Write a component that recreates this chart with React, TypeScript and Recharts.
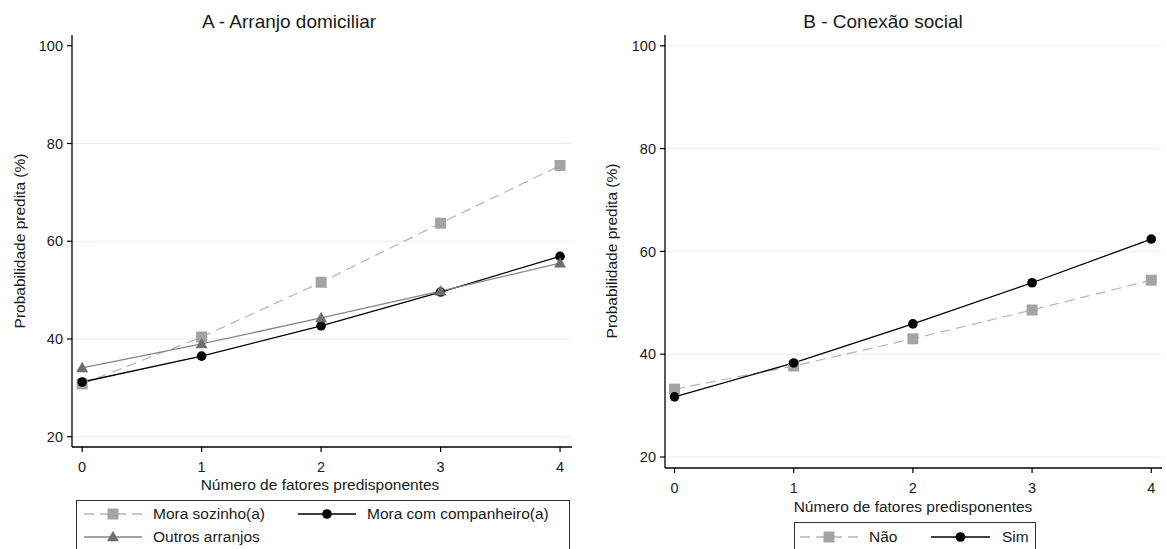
import React from 'react';
import { LineChart, Line, XAxis, YAxis, CartesianGrid } from 'recharts';

const xValues = [0, 1, 2, 3, 4];
const moraSozinho = [30.8, 40.4, 51.6, 63.7, 75.5];
const moraCompanheiro = [31.2, 36.5, 42.7, 49.6, 56.9];
const outrosArranjos = [34.1, 39.0, 44.3, 49.8, 55.5];
const conexaoNao = [33.2, 37.7, 43.0, 48.6, 54.4];
const conexaoSim = [31.7, 38.3, 45.9, 53.9, 62.4];
const yTicks = [20, 40, 60, 80, 100];
const xTicks = [0, 1, 2, 3, 4];

const titleA = 'A - Arranjo domiciliar';
const titleB = 'B - Conexão social';
const xTitle = 'Número de fatores predisponentes';
const yTitle = 'Probabilidade predita (%)';
const legendA = ['Mora sozinho(a)', 'Mora com companheiro(a)', 'Outros arranjos'];
const legendB = ['Não', 'Sim'];

const dataA = xValues.map((x, i) => ({
  x,
  sozinho: moraSozinho[i],
  companheiro: moraCompanheiro[i],
  outros: outrosArranjos[i],
}));
const dataB = xValues.map((x, i) => ({ x, nao: conexaoNao[i], sim: conexaoSim[i] }));

const FONT = '"Liberation Sans", Arial, sans-serif';
const TEXT = '#1a1a1a';
const SQ_FILL = '#a4a4a4';
const SQ_LINE = '#b4b4b4';
const TRI_FILL = '#6f6f6f';
const TRI_LINE = '#858585';
const GRID = '#e4eeef';

const squareDot = (p: any) => {
  if (p.cx == null || p.cy == null) return <g key={`s-${p.index}`} />;
  return <rect key={`s-${p.index}`} x={p.cx - 5.5} y={p.cy - 5.5} width={11} height={11} fill={SQ_FILL} />;
};
const circleDot = (p: any) => {
  if (p.cx == null || p.cy == null) return <g key={`c-${p.index}`} />;
  return <circle key={`c-${p.index}`} cx={p.cx} cy={p.cy} r={4.8} fill="#000" />;
};
const triDot = (p: any) => {
  if (p.cx == null || p.cy == null) return <g key={`t-${p.index}`} />;
  const { cx, cy } = p;
  return (
    <polygon
      key={`t-${p.index}`}
      points={`${cx - 6},${cy + 4.3} ${cx + 6},${cy + 4.3} ${cx},${cy - 6.2}`}
      fill={TRI_FILL}
    />
  );
};

const tickStyle = { fill: TEXT, fontSize: 14.5, fontFamily: FONT };

const abs = (s: React.CSSProperties): React.CSSProperties => ({ position: 'absolute', ...s });

function TextAt({ x, y, children, size = 15.5, anchor = 'left' }: any) {
  const style: React.CSSProperties = {
    position: 'absolute',
    top: y - 10,
    height: 20,
    lineHeight: '20px',
    fontSize: size,
    fontFamily: FONT,
    color: TEXT,
    whiteSpace: 'nowrap',
  };
  if (anchor === 'center') {
    style.left = x - 300;
    style.width = 600;
    style.textAlign = 'center';
  } else {
    style.left = x;
  }
  return <div style={style}>{children}</div>;
}

function YTitle({ x, y }: { x: number; y: number }) {
  return (
    <div
      style={abs({
        left: x - 150,
        top: y - 10,
        width: 300,
        height: 20,
        lineHeight: '20px',
        textAlign: 'center',
        fontSize: 15.5,
        fontFamily: FONT,
        color: TEXT,
        transform: 'rotate(-90deg)',
        transformOrigin: 'center center',
        whiteSpace: 'nowrap',
      })}
    >
      {yTitle}
    </div>
  );
}

function Sample({ x1, x2, y, kind }: { x1: number; x2: number; y: number; kind: 'sq' | 'ci' | 'tr' }) {
  const w = x2 - x1;
  const c = w / 2;
  const stroke = kind === 'sq' ? SQ_LINE : kind === 'ci' ? '#000' : TRI_LINE;
  return (
    <svg style={abs({ left: x1, top: y - 8, width: w, height: 16 })} width={w} height={16}>
      <line
        x1={0}
        x2={w}
        y1={8}
        y2={8}
        stroke={stroke}
        strokeWidth={1.3}
        strokeDasharray={kind === 'sq' ? '10 6' : undefined}
      />
      {kind === 'sq' && <rect x={c - 5.5} y={2.5} width={11} height={11} fill={SQ_FILL} />}
      {kind === 'ci' && <circle cx={c} cy={8} r={4.8} fill="#000" />}
      {kind === 'tr' && (
        <polygon points={`${c - 6},${12.3} ${c + 6},${12.3} ${c},${1.8}`} fill={TRI_FILL} />
      )}
    </svg>
  );
}

export default function App() {
  return (
    <div
      style={abs({
        left: 0,
        top: 0,
        width: 1166,
        height: 549,
        overflow: 'hidden',
        background: '#fff',
        fontFamily: FONT,
      })}
    >
      {/* Panel A */}
      <div style={abs({ left: 0, top: 0 })}>
        <LineChart
          width={590}
          height={549}
          data={dataA}
          margin={{ top: 35, right: 18, bottom: 72, left: 0 }}
          style={{ fontFamily: FONT }}
        >
          <CartesianGrid vertical={false} stroke={GRID} horizontalValues={[20, 40, 60, 80]} />
          <XAxis
            type="number"
            dataKey="x"
            domain={[-0.085, 4.1]}
            ticks={xTicks}
            allowDataOverflow
            height={30}
            tickSize={5}
            tickMargin={10}
            tick={tickStyle}
            axisLine={{ stroke: '#000', strokeWidth: 1.3 }}
            tickLine={{ stroke: '#000', strokeWidth: 1.2 }}
          />
          <YAxis
            type="number"
            domain={[17.9, 102.2]}
            ticks={yTicks}
            allowDataOverflow
            width={72}
            tickSize={5}
            tickMargin={4}
            tick={tickStyle}
            axisLine={{ stroke: '#000', strokeWidth: 1.3 }}
            tickLine={{ stroke: '#000', strokeWidth: 1.2 }}
          />
          <Line
            dataKey="sozinho"
            stroke={SQ_LINE}
            strokeWidth={1.2}
            strokeDasharray="10 6"
            dot={squareDot}
            activeDot={false}
            isAnimationActive={false}
          />
          <Line
            dataKey="companheiro"
            stroke="#000"
            strokeWidth={1.3}
            dot={circleDot}
            activeDot={false}
            isAnimationActive={false}
          />
          <Line
            dataKey="outros"
            stroke={TRI_LINE}
            strokeWidth={1.3}
            dot={triDot}
            activeDot={false}
            isAnimationActive={false}
          />
        </LineChart>
      </div>

      {/* Panel B */}
      <div style={abs({ left: 590, top: 0 })}>
        <LineChart
          width={576}
          height={549}
          data={dataB}
          margin={{ top: 35, right: 4, bottom: 51, left: 0 }}
          style={{ fontFamily: FONT }}
        >
          <CartesianGrid vertical={false} stroke={GRID} horizontalValues={[20, 40, 60, 80, 100]} />
          <XAxis
            type="number"
            dataKey="x"
            domain={[-0.08, 4.09]}
            ticks={xTicks}
            allowDataOverflow
            height={30}
            tickSize={5}
            tickMargin={10}
            tick={tickStyle}
            axisLine={{ stroke: '#000', strokeWidth: 1.3 }}
            tickLine={{ stroke: '#000', strokeWidth: 1.2 }}
          />
          <YAxis
            type="number"
            domain={[17.86, 102.1]}
            ticks={yTicks}
            allowDataOverflow
            width={75}
            tickSize={5}
            tickMargin={4}
            tick={tickStyle}
            axisLine={{ stroke: '#000', strokeWidth: 1.3 }}
            tickLine={{ stroke: '#000', strokeWidth: 1.2 }}
          />
          <Line
            dataKey="nao"
            stroke={SQ_LINE}
            strokeWidth={1.2}
            strokeDasharray="10 6"
            dot={squareDot}
            activeDot={false}
            isAnimationActive={false}
          />
          <Line
            dataKey="sim"
            stroke="#000"
            strokeWidth={1.3}
            dot={circleDot}
            activeDot={false}
            isAnimationActive={false}
          />
        </LineChart>
      </div>

      {/* Titles */}
      <TextAt x={289} y={22} size={19} anchor="center">{titleA}</TextAt>
      <TextAt x={883} y={22} size={19} anchor="center">{titleB}</TextAt>
      <TextAt x={320} y={485} anchor="center">{xTitle}</TextAt>
      <TextAt x={913} y={507} anchor="center">{xTitle}</TextAt>
      <YTitle x={20} y={241} />
      <YTitle x={612} y={251} />

      {/* Legend A */}
      <div style={abs({ left: 76, top: 500, width: 494, height: 80, border: '1px solid #333', boxSizing: 'border-box' })} />
      <Sample x1={84} x2={142} y={514} kind="sq" />
      <TextAt x={153} y={514}>{legendA[0]}</TextAt>
      <Sample x1={298} x2={356} y={514} kind="ci" />
      <TextAt x={367} y={514}>{legendA[1]}</TextAt>
      <Sample x1={84} x2={142} y={537} kind="tr" />
      <TextAt x={153} y={537}>{legendA[2]}</TextAt>

      {/* Legend B */}
      <div style={abs({ left: 794, top: 522, width: 242, height: 60, border: '1px solid #333', boxSizing: 'border-box' })} />
      <Sample x1={800} x2={858} y={537} kind="sq" />
      <TextAt x={869} y={537}>{legendB[0]}</TextAt>
      <Sample x1={931} x2={990} y={537} kind="ci" />
      <TextAt x={1002} y={537}>{legendB[1]}</TextAt>
    </div>
  );
}
